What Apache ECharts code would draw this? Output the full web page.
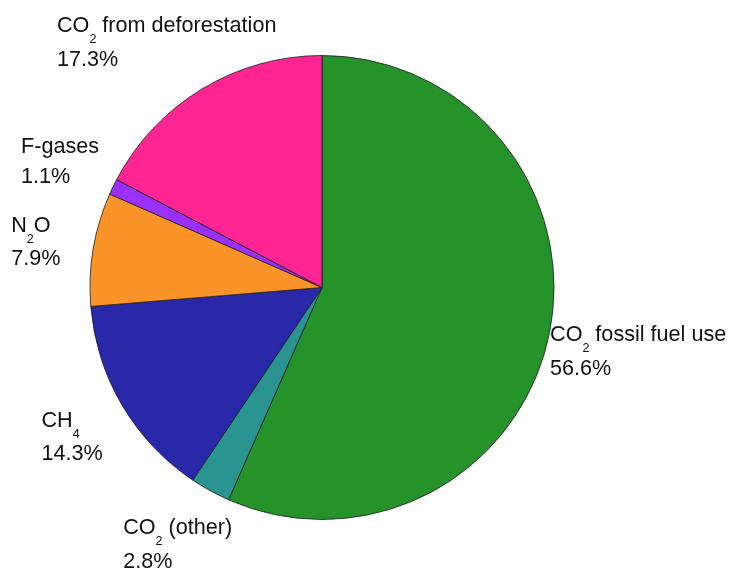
<!DOCTYPE html>
<html>
<head>
<meta charset="utf-8">
<script src="https://cdn.jsdelivr.net/npm/echarts@6/dist/echarts.min.js"></script>
<style>
  html, body { margin: 0; padding: 0; background: #ffffff; }
  #chart { width: 730px; height: 570px; }
</style>
</head>
<body>
<div id="chart"></div>
<script>
// Share of greenhouse gas emissions, by source (percent)
const categories = [
  'CO2 fossil fuel use',
  'CO2 (other)',
  'CH4',
  'N2O',
  'F-gases',
  'CO2 from deforestation'
];
const shares = [56.6, 2.8, 14.3, 7.9, 1.1, 17.3];
const sliceColors = ['#26922a', '#2a9590', '#2828a9', '#fa9428', '#9b30fb', '#fe2494'];

// Pie geometry (pixels)
const PIE_CENTER = [322, 287.5];
const PIE_RADIUS = 232;
const START_ANGLE = 90;

// Label nudges from the rim point at each slice's mid-angle to the label block's top-left corner
const labelNudge = [
  [1, -11],
  [-87, 26.5],
  [-80.5, 5],
  [-82, -34.3],
  [-92, -50.3],
  [-145, -73.4]
];

// Mid-angle of every slice (clockwise from the start angle), in degrees
const total = shares.reduce((a, b) => a + b, 0);
const midAngles = [];
let acc = 0;
shares.forEach(v => {
  midAngles.push((acc + v / 2) / total * 360);
  acc += v;
});

// Turn chemical digits into subscripts in rich text
function richName(name) {
  return name.split(/(\d)/).filter(s => s.length).map(s =>
    /^\d$/.test(s) ? '{s|' + s + '}' : '{a|' + s + '}'
  ).join('');
}

const FONT = 'Liberation Sans, Arial, sans-serif';
const chart = echarts.init(document.getElementById('chart'), null, { renderer: 'canvas' });

chart.setOption({
  animation: false,
  backgroundColor: '#ffffff',
  series: [{
    type: 'pie',
    center: PIE_CENTER,
    radius: PIE_RADIUS,
    startAngle: START_ANGLE,
    clockwise: true,
    avoidLabelOverlap: false,
    silent: true,
    data: categories.map((c, i) => ({
      name: c,
      value: shares[i],
      itemStyle: { color: sliceColors[i] }
    })),
    itemStyle: { borderColor: '#1e1e1e', borderWidth: 0.8 },
    emphasis: { disabled: true },
    labelLine: { show: false },
    label: {
      show: true,
      position: 'outside',
      color: '#111111',
      fontFamily: FONT,
      formatter: p => richName(p.name) + '\n{a|' + p.value.toFixed(1) + '%}',
      rich: {
        a: {
          fontSize: 21.6,
          lineHeight: 30,
          verticalAlign: 'top',
          color: '#111111',
          fontFamily: FONT
        },
        s: {
          fontSize: 12.5,
          lineHeight: 33.5,
          verticalAlign: 'top',
          padding: [18, 0, 0, 0],
          color: '#111111',
          fontFamily: FONT
        }
      }
    },
    labelLayout: params => {
      const i = params.dataIndex;
      const a = (midAngles[i] - (90 - START_ANGLE)) * Math.PI / 180;
      const rimX = PIE_CENTER[0] + Math.sin(a) * PIE_RADIUS;
      const rimY = PIE_CENTER[1] - Math.cos(a) * PIE_RADIUS;
      return {
        x: rimX + labelNudge[i][0],
        y: rimY + labelNudge[i][1],
        align: 'left',
        verticalAlign: 'top'
      };
    }
  }]
});
</script>
</body>
</html>
